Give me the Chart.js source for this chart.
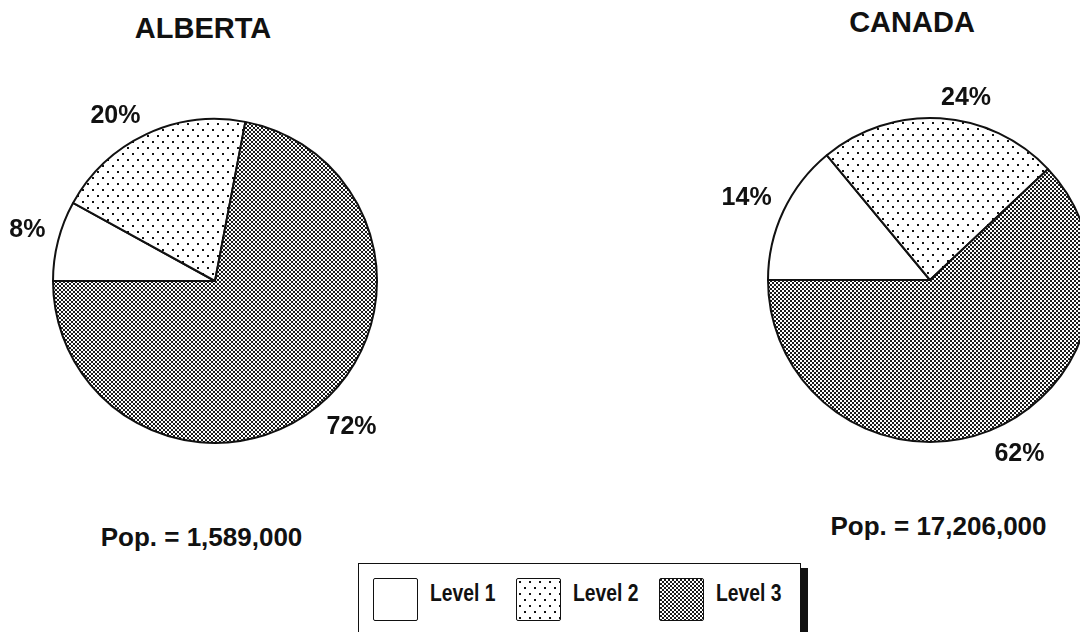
<!DOCTYPE html>
<html>
<head>
<meta charset="utf-8">
<script src="https://cdn.jsdelivr.net/npm/chart.js@4.4.1/dist/chart.umd.min.js"></script>
<style>
    body
    {
        margin: 0;
        width: 1080px;
        height: 632px;
        overflow: hidden;
        position: relative;
        background: #fff;
        color: #111;
        font-family: "Liberation Sans", Arial, sans-serif;
    }
    .pie
    {
        position: absolute;
        width: 440px;
        height: 440px;
    }
    .caption
    {
        position: absolute;
        font-weight: bold;
        line-height: 1;
        white-space: nowrap;
        transform: translateX(-50%);
    }
    .title { font-size: 29px; }
    .pop { font-size: 26px; }
    #legend
    {
        position: absolute;
        left: 358px;
        top: 563px;
        width: 443px;
        height: 70px;
        box-sizing: border-box;
        border: 1.5px solid #111;
        box-shadow: 7px 5px 0 #111;
        background: #fff;
        display: flex;
        align-items: flex-start;
        padding: 13.5px 0 0 14px;
    }
    .swatch
    {
        flex: none;
        width: 45px;
        height: 43px;
        box-sizing: border-box;
        border: 1.5px solid #111;
        border-radius: 2px;
        background-color: #fff;
    }
    .legend-label
    {
        flex: none;
        width: 68px;
        margin: 0 18px 0 12px;
        line-height: 31px;
        white-space: nowrap;
    }
    .legend-label span
    {
        display: inline-block;
        font-size: 23px;
        font-weight: bold;
        transform: scaleX(0.84);
        transform-origin: left center;
    }
</style>
</head>
<body>
<canvas id="albertaChart" class="pie" width="440" height="440" style="left:-5px; top:61px;"></canvas>
<canvas id="canadaChart" class="pie" width="440" height="440" style="left:710px; top:60px;"></canvas>
<div id="legend"></div>

<script>
const regions = ['ALBERTA', 'CANADA'];
const levels = ['Level 1', 'Level 2', 'Level 3'];
const albertaShares = [8, 20, 72];
const canadaShares = [14, 24, 62];
const populations = ['1,589,000', '17,206,000'];

// screened fills like the old print: blank, sparse dots, dense dots
function makeTile(kind)
{
    const tile = document.createElement('canvas');
    const ctx = tile.getContext('2d');
    if (kind === 'sparse')
    {
        tile.width = 10;
        tile.height = 12;
        ctx.fillStyle = '#fff';
        ctx.fillRect(0, 0, 10, 12);
        ctx.fillStyle = '#111';
        ctx.fillRect(2, 2, 2, 2);
        ctx.fillRect(7, 8, 2, 2);
    } else if (kind === 'dense')
    {
        tile.width = 4;
        tile.height = 4;
        ctx.fillStyle = '#fff';
        ctx.fillRect(0, 0, 4, 4);
        ctx.fillStyle = '#1a1a1a';
        ctx.fillRect(0, 0, 2, 2);
        ctx.fillRect(2, 2, 2, 2);
    } else
    {
        tile.width = 4;
        tile.height = 4;
        ctx.fillStyle = '#fff';
        ctx.fillRect(0, 0, 4, 4);
    }
    return tile;
}

const tiles = [makeTile('blank'), makeTile('sparse'), makeTile('dense')];

// percentages sit just outside the rim, at the middle of each slice
const sliceLabels = {
    id: 'sliceLabels',
    afterDatasetsDraw(chart)
    {
        const ctx = chart.ctx;
        const values = chart.data.datasets[0].data;
        const fontSize = 25;
        ctx.save();
        ctx.font = 'bold ' + fontSize + 'px "Liberation Sans", Arial, sans-serif';
        ctx.fillStyle = '#111';
        ctx.textBaseline = 'alphabetic';
        chart.getDatasetMeta(0).data.forEach((arc, i) =>
        {
            const p = arc.getProps(['x', 'y', 'startAngle', 'endAngle', 'outerRadius'], true);
            const mid = (p.startAngle + p.endAngle) / 2;
            const cos = Math.cos(mid);
            const sin = Math.sin(mid);
            const px = p.x + (p.outerRadius + 13) * cos;
            const py = p.y + (p.outerRadius + 13) * sin;
            ctx.textAlign = cos < 0 ? 'right' : 'left';
            ctx.fillText(values[i] + '%', px, sin < 0 ? py : py + fontSize * 0.72);
        });
        ctx.restore();
    }
};

function createPie(canvasId, shares)
{
    const ctx = document.getElementById(canvasId).getContext('2d');
    return new Chart(ctx, {
        type: 'pie',
        data: {
            labels: levels,
            datasets: [{
                data: shares,
                backgroundColor: tiles.map(t => ctx.createPattern(t, 'repeat')),
                borderColor: '#111',
                borderWidth: 2,
                radius: 162
            }]
        },
        options: {
            responsive: false,
            animation: false,
            events: [],
            rotation: 270,
            layout: { padding: 0 },
            plugins: {
                legend: { display: false },
                tooltip: { enabled: false }
            }
        },
        plugins: [sliceLabels]
    });
}

function addCaption(text, cls, x, top)
{
    const el = document.createElement('div');
    el.className = 'caption ' + cls;
    el.textContent = text;
    el.style.left = x + 'px';
    el.style.top = top + 'px';
    document.body.appendChild(el);
}

function buildLegend()
{
    const legend = document.getElementById('legend');
    levels.forEach((level, i) =>
    {
        const swatch = document.createElement('div');
        swatch.className = 'swatch';
        swatch.style.backgroundImage = 'url(' + tiles[i].toDataURL() + ')';
        legend.appendChild(swatch);

        const label = document.createElement('div');
        label.className = 'legend-label';
        const text = document.createElement('span');
        text.textContent = level;
        label.appendChild(text);
        legend.appendChild(label);
    });
}

createPie('albertaChart', albertaShares);
createPie('canadaChart', canadaShares);

addCaption(regions[0], 'title', 203, 13.5);
addCaption(regions[1], 'title', 912, 7.5);
addCaption('Pop. = ' + populations[0], 'pop', 201.5, 524);
addCaption('Pop. = ' + populations[1], 'pop', 938.5, 513);

buildLegend();
</script>
</body>
</html>
